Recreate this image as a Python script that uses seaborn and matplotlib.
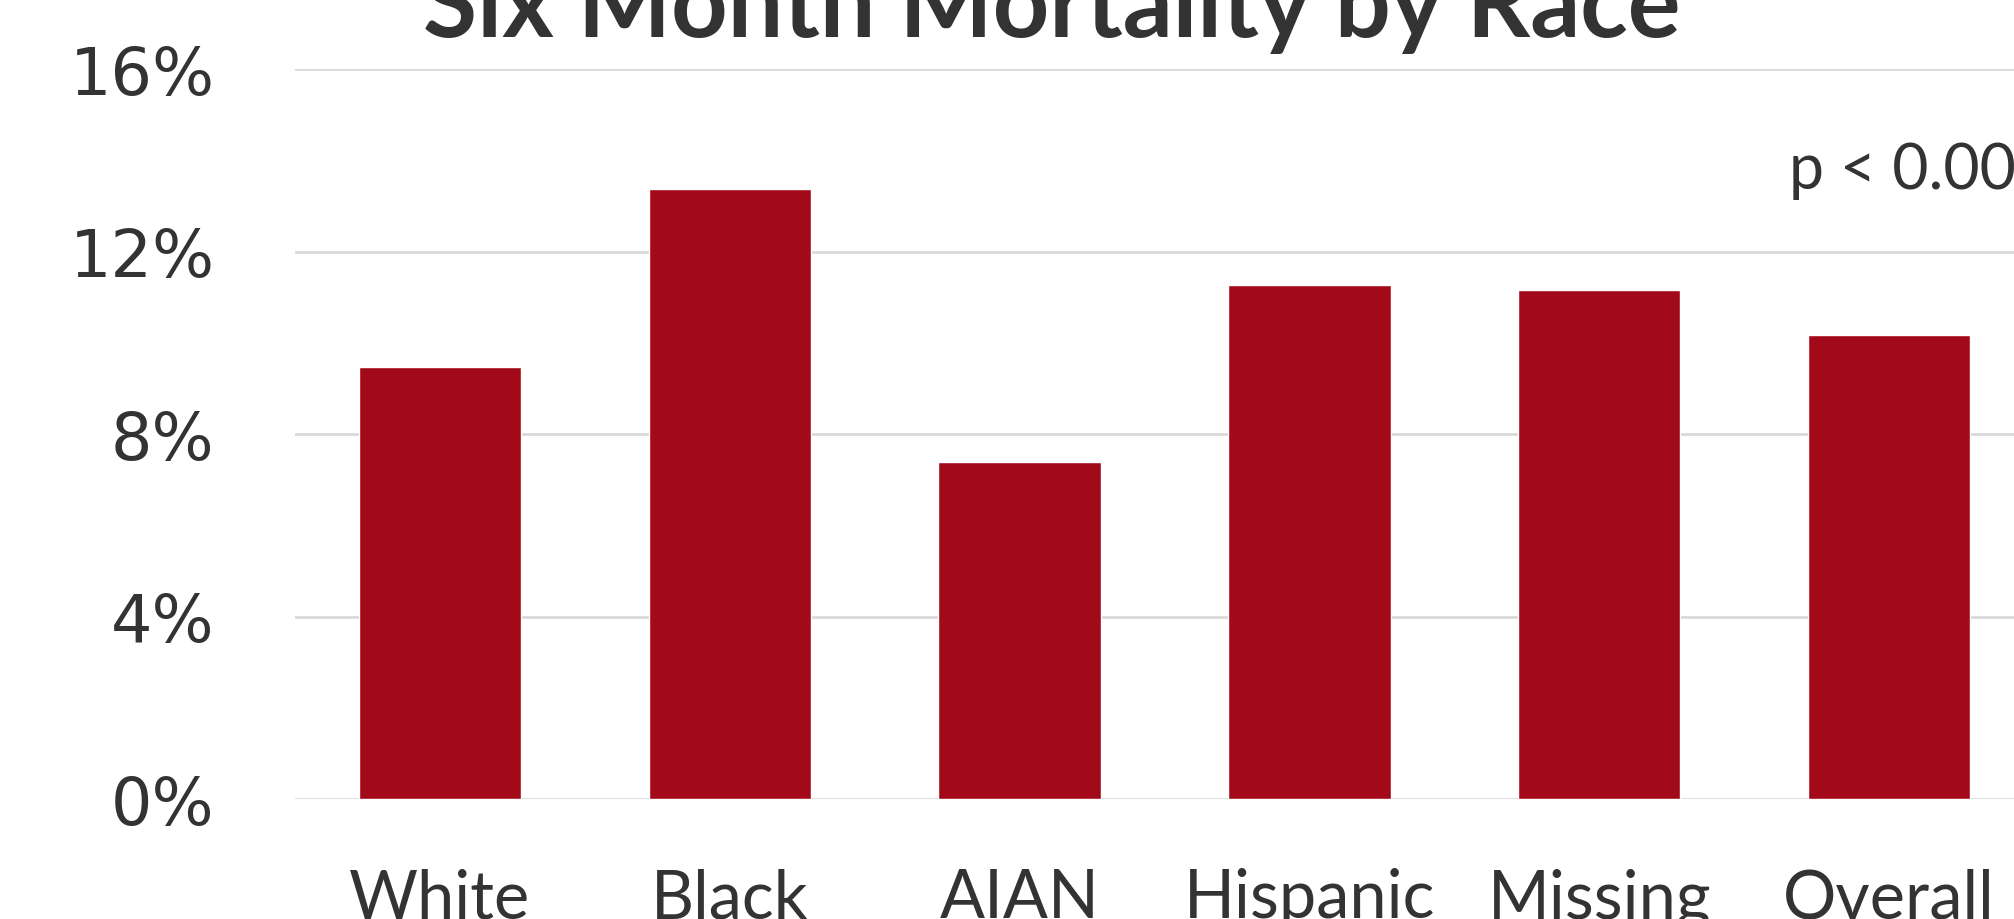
import matplotlib
matplotlib.use("Agg")
import matplotlib.pyplot as plt
import seaborn as sns
import pandas as pd

races = ["White", "Black", "AIAN", "Hispanic", "Missing", "Overall"]
mortality = [0.0946, 0.1338, 0.0738, 0.1127, 0.1115, 0.1017]
yticks = [0, 0.04, 0.08, 0.12, 0.16]
ytick_labels = ["0%", "4%", "8%", "12%", "16%"]

bar_color = "#A30A19"
text_color = "#333333"

sns.set_theme(style="white")
df = pd.DataFrame({"race": races, "mortality": mortality})

fig = plt.figure(figsize=(20.14, 9.2), dpi=100)
ax = fig.add_axes([295 / 2014, 1 - 800 / 920, 1739 / 2014, 730 / 920])

sns.barplot(data=df, x="race", y="mortality", color=bar_color, width=0.56,
            saturation=1, ax=ax)

ax.set_ylim(0, 0.16)
ax.set_xlim(-0.5, 5.5)
ax.set_yticks(yticks)
ax.set_yticklabels(ytick_labels, family="DejaVu Sans", fontsize=47, color=text_color)
ax.set_xticks(range(len(races)))
ax.set_xticklabels(races, family="Lato", fontsize=48, color=text_color)
ax.tick_params(axis="y", length=0, pad=58)
ax.tick_params(axis="x", length=0, pad=49)
ax.set_xlabel("")
ax.set_ylabel("")
ax.yaxis.grid(True, color="#D9D9D9", linewidth=2)
ax.set_axisbelow(True)
for s in ax.spines.values():
    s.set_visible(False)

fig.text(1052 / 2014, 1 - 37 / 920, "Six Month Mortality by Race", ha="center",
         va="baseline", family="Lato", fontweight="bold", fontsize=71, color=text_color)
fig.text(1789 / 2014, 1 - 189 / 920, "p < 0.001", ha="left", va="baseline",
         family="Lato", fontsize=45, color=text_color)

fig.savefig("out.png", dpi=100)
